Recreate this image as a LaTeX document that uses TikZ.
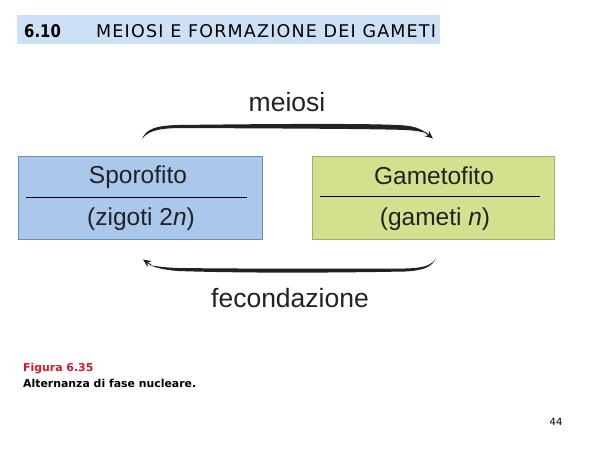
\documentclass[tikz,border=0pt]{standalone}
\usepackage{fontspec}
\setmainfont{Liberation Sans}
\newfontfamily\hdrfont[LetterSpace=6.8]{DejaVu Sans}
\newfontfamily\capfont{DejaVu Sans}
\usetikzlibrary{arrows.meta}
\definecolor{hdrband}{RGB}{204,225,246}
\definecolor{sporofill}{RGB}{170,199,236}
\definecolor{sporoline}{RGB}{110,140,185}
\definecolor{gamefill}{RGB}{213,224,142}
\definecolor{gameline}{RGB}{165,175,105}
\definecolor{txtdark}{RGB}{34,34,34}
\definecolor{capred}{RGB}{200,30,40}
\tikzset{
  phasebox/.style={draw, line width=0.9pt, minimum width=#1, minimum height=83pt, inner sep=0pt},
  bigtxt/.style={text=txtdark, font=\fontsize{24.5}{28}\selectfont, inner sep=0pt},
  arrtxt/.style={text=txtdark, font=\fontsize{26.5}{30}\selectfont, inner sep=0pt},
  divider/.style={line width=0.8pt, black},
  arcfill/.style={fill=txtdark},
  captxt/.style={anchor=west, inner sep=0pt, font=\capfont\bfseries\fontsize{10.9}{13}\selectfont},
}
\begin{document}
\begin{tikzpicture}[x=1pt,y=-1pt]
\useasboundingbox (0,0) rectangle (600,450);
\fill[white] (0,0) rectangle (600,450);
% header
\fill[hdrband] (17,15) rectangle (440,44);
\node[anchor=west, inner sep=0pt, font=\capfont\bfseries\fontsize{17.5}{20}\selectfont] (num) at (24,31) {\scalebox{0.85}[1]{6.10}};
\node[anchor=west, inner sep=0pt, font=\hdrfont\fontsize{17.5}{20}\selectfont] (title) at (96,31) {MEIOSI E FORMAZIONE DEI GAMETI};
% boxes
\node[phasebox=244pt, fill=sporofill, draw=sporoline] (sporo) at (140,197.5) {};
\node[phasebox=242pt, fill=gamefill, draw=gameline] (game) at (433,197.5) {};
\draw[divider] (26,197) -- (247,197);
\draw[divider] (320,196) -- (540,196);
\node[bigtxt] (spt) at (138,177) {Sporofito};
\node[bigtxt] (spb) at (141,219) {(zigoti 2\textit{n})};
\node[bigtxt] (gmt) at (434,176) {Gametofito};
\node[bigtxt] (gmb) at (435,219) {(gameti \textit{n})};
% meiosi arrow
\node[arrtxt] (meiosi) at (287,102) {meiosi};
\coordinate (mstart) at (142,139);
\coordinate (mend) at (433,138.5);
\fill[arcfill] (mstart) .. controls (146,129) and (156,125.5) .. (178,125)
  .. controls (300,123.5) and (380,123.5) .. (405,125.5)
  .. controls (416,126.5) and (423,130) .. (427,133.5)
  .. controls (422,131.5) and (415,130.5) .. (405,130)
  .. controls (380,129) and (300,128.5) .. (178,128)
  .. controls (158,128.5) and (148,131) .. (mstart) -- cycle;
\draw[txtdark, line width=1pt, -{Stealth[length=8pt,width=7pt]}] (425,132) -- (mend);
% fecondazione arrow
\node[arrtxt] (fec) at (290,298) {fecondazione};
\coordinate (fstart) at (436,258);
\coordinate (fend) at (143,259.5);
\fill[arcfill] (fstart) .. controls (432,267) and (424,270.5) .. (405,271.5)
  .. controls (300,273.5) and (220,272.5) .. (178,271)
  .. controls (165,270) and (156,268) .. (150,265)
  .. controls (157,266.5) and (165,267.5) .. (178,268)
  .. controls (220,268.5) and (300,269) .. (405,268.5)
  .. controls (425,268) and (432,265) .. (fstart) -- cycle;
\draw[txtdark, line width=1pt, -{Stealth[length=8pt,width=7pt]}] (151,265) -- (fend);
% caption
\node[captxt, text=capred] (figlab) at (23,369) {Figura 6.35};
\node[captxt] (figcap) at (23,383) {Alternanza di fase nucleare.};
\node[inner sep=0pt, font=\capfont\fontsize{10}{12}\selectfont] (page) at (556,422) {44};
\end{tikzpicture}
\end{document}
